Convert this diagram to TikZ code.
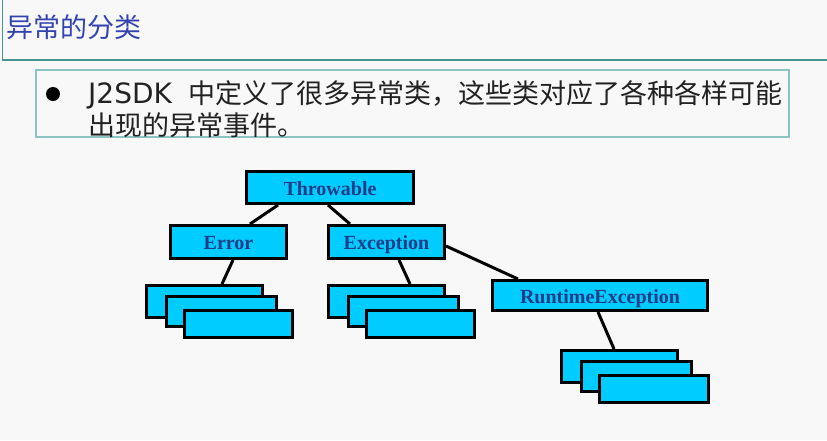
\documentclass[tikz,border=0pt]{standalone}
\usepackage{fontspec}
\setmainfont{Liberation Serif}
\newfontfamily\cjk{Noto Sans CJK SC}
\newfontfamily\latinsans{DejaVu Sans}
\definecolor{bgc}{HTML}{F8F8F8}
\definecolor{framec}{HTML}{4A9494}
\definecolor{frameb}{HTML}{8CC4C4}
\definecolor{titlec}{HTML}{3344B0}
\definecolor{cyanfill}{HTML}{00CCFF}
\definecolor{navytext}{HTML}{1F3C88}
\definecolor{bodytext}{HTML}{222222}
\tikzset{
  cls/.style={draw=black, line width=3pt, fill=cyanfill, text=navytext,
    font=\fontsize{20}{24}\selectfont\bfseries, inner sep=0pt,
    text height=17pt, text depth=2pt},
  conn/.style={draw=black, line width=3pt},
  ttl/.style={text=titlec, font=\cjk\fontsize{27}{30}\selectfont, inner sep=0pt},
  body/.style={text=bodytext, font=\cjk\fontsize{27}{30}\selectfont, inner sep=0pt}
}
\begin{document}
\begin{tikzpicture}[x=1pt,y=-1pt]
\useasboundingbox (0,0) rectangle (827,440);
\fill[bgc] (0,0) rectangle (827,440);
% title frame
\draw[framec, line width=1.5pt] (2.5,-2) -- (2.5,60) -- (830,60);
\node[ttl, anchor=west] (title) at (6,27) {异常的分类};
% bullet frame
\draw[frameb, line width=1.5pt] (36,70) rectangle (789,137);
\fill[black] (53,94) circle (7);
\node[body, anchor=west] (line1) at (88,95) {{\latinsans\fontsize{28}{30}\selectfont J2SDK}\hspace{17pt}中定义了很多异常类，这些类对应了各种各样可能};
\node[body, anchor=west] (line2) at (88,125) {出现的异常事件。};
% class boxes
\node[cls, minimum width=167pt, minimum height=32pt] (throw) at (330,187.5) {Throwable};
\node[cls, minimum width=116pt, minimum height=33pt] (err) at (228.5,242) {Error};
\node[cls, minimum width=116pt, minimum height=33pt] (exc) at (386.5,242) {Exception};
\node[cls, minimum width=215pt, minimum height=30pt] (rt) at (600,295.5) {RuntimeException};
% error stack
\node[cls, minimum width=116pt, minimum height=32pt] (e1) at (204.5,301.5) {};
\node[cls, minimum width=110pt, minimum height=30pt] (e2) at (221.5,311.5) {};
\node[cls, minimum width=108pt, minimum height=27pt] (e3) at (238.5,324) {};
% exception stack
\node[cls, minimum width=116pt, minimum height=32pt] (x1) at (386.5,301.5) {};
\node[cls, minimum width=110pt, minimum height=30pt] (x2) at (403.5,311.5) {};
\node[cls, minimum width=108pt, minimum height=27pt] (x3) at (420.5,324) {};
% runtime stack
\node[cls, minimum width=116pt, minimum height=32pt] (r1) at (619.5,366.5) {};
\node[cls, minimum width=110pt, minimum height=30pt] (r2) at (636.5,376.5) {};
\node[cls, minimum width=109pt, minimum height=27pt] (r3) at (654,389) {};
% connectors
\draw[conn] ([xshift=-52pt]throw.south) -- ([xshift=21.5pt]err.north);
\draw[conn] ([xshift=-2pt]throw.south) -- ([xshift=-36.5pt]exc.north);
\draw[conn] ([xshift=4.5pt]err.south) -- ([xshift=17.5pt]e1.north);
\draw[conn] ([xshift=12.5pt]exc.south) -- ([xshift=23.5pt]x1.north);
\draw[conn] ([yshift=-4pt]exc.east) -- ([xshift=-82pt]rt.north);
\draw[conn] ([xshift=-2pt]rt.south) -- ([xshift=-5.5pt]r1.north);
\end{tikzpicture}
\end{document}
